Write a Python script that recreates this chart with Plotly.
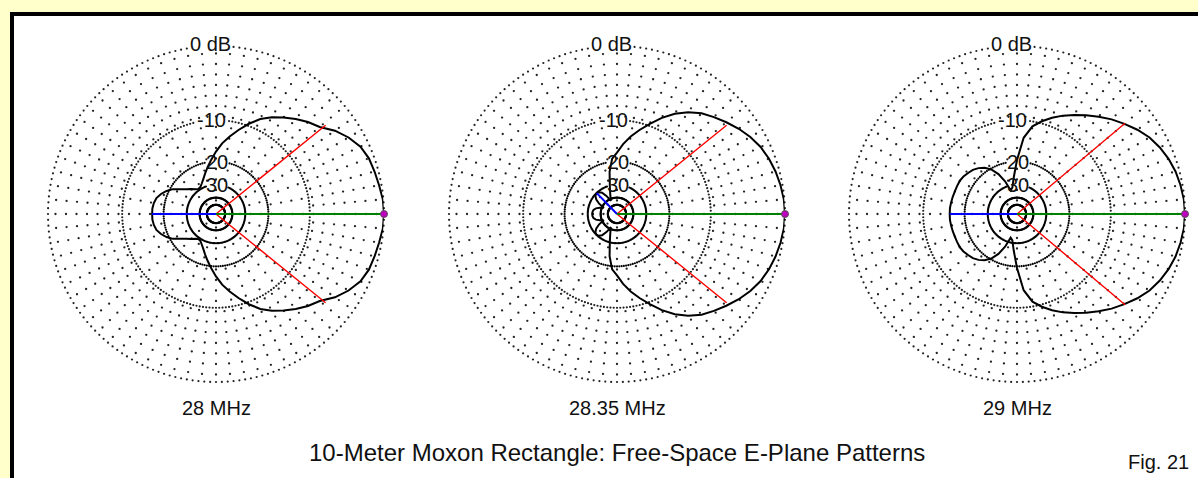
import numpy as np
import plotly.graph_objects as go

W, H = 1198, 478

# ---------------- data ----------------
angles_deg = [0, 5, 10, 15, 20, 25, 30, 35, 40, 45, 50, 55, 60, 65, 70, 75, 80, 85, 90,
              95, 100, 105, 110, 115, 120, 125, 130, 135, 140, 145, 150, 155, 160, 165,
              170, 175, 180]

db_28 = [0, -0.05, -0.25, -0.4, -0.55, -0.9, -1.6, -2.5, -3.7, -4.4, -5.2, -6.1, -7.0,
         -8.1, -9.6, -11.3, -13.0, -14.8, -17.0, -19.3, -21.6, -23.8, -25.9, -27.6,
         -28.9, -29.2, -28.3, -26.8, -25.2, -23.3, -20.9, -19.3, -18.1, -17.2, -16.8,
         -16.6, -16.6]

db_2835 = [0, -0.05, -0.2, -0.4, -0.65, -1.0, -1.5, -2.1, -2.8, -3.5, -4.2, -5.2, -6.4,
           -7.9, -9.6, -11.3, -13.0, -15.0, -17.3, -19.0, -23.5, -31.0, -37.0, -42.0,
           -36.0, -32.0, -30.5, -30.1, -30.6, -32.5, -36.0, -42.0, -38.0, -35.0, -33.5,
           -33.0, -32.8]

db_29 = [0, -0.05, -0.2, -0.4, -0.7, -1.1, -1.6, -2.3, -3.1, -3.9, -4.8, -5.7, -6.6,
         -7.5, -8.5, -9.6, -10.9, -13.5, -19.5, -26.0, -31.5, -33.0, -27.0, -23.0,
         -20.3, -18.7, -17.7, -17.0, -16.6, -16.2, -16.0, -16.0, -16.0, -15.9, -15.8,
         -15.7, -15.7]

freq_labels = ["28 MHz", "28.35 MHz", "29 MHz"]
beam_half_deg = [39, 39, 40]          # -3 dB beamwidth half angle (red lines)
beam_edge_db = [-3.0, -3.0, -3.0]
back_peak_deg = [180, 134, 180]       # worst rear lobe (blue line)
back_peak_db = [-16.6, -30.1, -15.7]
ring_label_text = ["0 dB", "-10", "20", "30"]
ring_label_db = [0, -10, -20, -30]
outer_ring_db = [0, -10]
inner_ring_db = [-20, -30, -40, -50]
title_text = "10-Meter Moxon Rectangle: Free-Space E-Plane Patterns"
fig_text = "Fig. 21"

# ---------------- layout geometry ----------------
centers = [(216, 214), (617, 214), (1017, 214)]
R = 168
FONT = "Liberation Sans, Arial, sans-serif"
YELLOW = "#FFFFCC"
label_dx = [-6, -4, 1, 1]
label_gap = {0: (-29, 17), -10: (-20, 12), -20: (-10, 12), -30: (-10, 12)}


def arrl(db):
    """ARRL log scale: radius shrinks by 0.89 for every 2 dB."""
    return 0.89 ** (-np.asarray(db, dtype=float) / 2.0)


def full_circle(ang, db):
    ang = np.asarray(ang, dtype=float)
    db = np.asarray(db, dtype=float)
    th = np.concatenate([ang, 360 - ang[::-1][1:]])
    dd = np.concatenate([db, db[::-1][1:]])
    return th, arrl(dd)


def ring_dots(levels, step):
    rr, tt = [], []
    for d in levels:
        r = float(arrl(d))
        th = np.arange(0, 360, step)
        keep = np.ones(th.size, bool)
        if d in label_gap:
            x = r * R * np.cos(np.radians(th))
            s = np.sin(np.radians(th))
            lo, hi = label_gap[d]
            keep = ~((s > 0.6) & (x >= lo) & (x <= hi))
        th = th[keep]
        tt.extend(th)
        rr.extend(np.full(th.size, r))
    return rr, tt


fig = go.Figure()
patterns = [db_28, db_2835, db_29]

ring_r, ring_t = ring_dots(outer_ring_db, 2.0)
iring_r, iring_t = ring_dots(inner_ring_db, 2.5)
spoke_r, spoke_t = [], []
rk = R - 7.5
while rk > 12:
    if rk > 97:
        st = 5
    elif rk > 54:
        st = 10
    elif rk > 30:
        st = 15
    else:
        st = 45
    th = np.arange(0, 360, st)
    spoke_t.extend(th)
    spoke_r.extend(np.full(th.size, rk / R))
    rk -= 10.5

for i in range(3):
    pid = "polar" if i == 0 else f"polar{i+1}"
    cx, cy = centers[i]
    fig.add_trace(go.Scatterpolar(r=ring_r, theta=ring_t, mode="markers",
                                  marker=dict(size=2.2, color="#222222"),
                                  subplot=pid, hoverinfo="skip", cliponaxis=False,
                                  showlegend=False))
    fig.add_trace(go.Scatterpolar(r=iring_r, theta=iring_t, mode="markers",
                                  marker=dict(size=2.2, color="#000000"),
                                  subplot=pid, hoverinfo="skip", cliponaxis=False,
                                  showlegend=False))
    fig.add_trace(go.Scatterpolar(r=spoke_r, theta=spoke_t, mode="markers",
                                  marker=dict(size=2.3, color="#222222"),
                                  subplot=pid, hoverinfo="skip", cliponaxis=False,
                                  showlegend=False))
    th, rr = full_circle(angles_deg, patterns[i])
    fig.add_trace(go.Scatterpolar(r=rr, theta=th, mode="lines",
                                  line=dict(color="black", width=2),
                                  subplot=pid, cliponaxis=False, showlegend=False))
    re = float(arrl(beam_edge_db[i]))
    fig.add_trace(go.Scatterpolar(r=[re, 0, re],
                                  theta=[beam_half_deg[i], 0, -beam_half_deg[i]],
                                  mode="lines", line=dict(color="#FF0000", width=1.4),
                                  subplot=pid, cliponaxis=False, showlegend=False))
    fig.add_trace(go.Scatterpolar(r=[0, float(arrl(back_peak_db[i]))],
                                  theta=[0, back_peak_deg[i]], mode="lines",
                                  line=dict(color="#0000FF", width=2),
                                  subplot=pid, cliponaxis=False, showlegend=False))
    fig.add_trace(go.Scatterpolar(r=[0, 1], theta=[0, 0], mode="lines",
                                  line=dict(color="#008000", width=2),
                                  subplot=pid, cliponaxis=False, showlegend=False))
    fig.add_trace(go.Scatterpolar(r=[1], theta=[0], mode="markers",
                                  marker=dict(size=7, color="#C000C0",
                                              line=dict(color="#555555", width=1)),
                                  subplot=pid, cliponaxis=False, showlegend=False))

    polar_cfg = dict(
        domain=dict(x=[(cx - R) / W, (cx + R) / W], y=[1 - (cy + R) / H, 1 - (cy - R) / H]),
        bgcolor="rgba(0,0,0,0)",
        radialaxis=dict(range=[0, 1], visible=False, showgrid=False),
        angularaxis=dict(visible=False, showgrid=False, rotation=0,
                         direction="counterclockwise"),
    )
    fig.update_layout(**{pid: polar_cfg})

annotations = []


def px_text(text, x, y, size=20, xanchor="center"):
    annotations.append(dict(text=text, x=x / W, y=1 - y / H, xref="paper", yref="paper",
                            showarrow=False, xanchor=xanchor, yanchor="middle",
                            font=dict(family=FONT, size=size, color="#111111")))


for i in range(3):
    cx, cy = centers[i]
    for k, (t, d) in enumerate(zip(ring_label_text, ring_label_db)):
        ry = cy - float(arrl(d)) * R
        px_text(t, cx + label_dx[k], ry + (-2 if k == 0 else 0))
    px_text(freq_labels[i], cx, 408)

px_text(title_text, 617, 452, size=24)
px_text(fig_text, 1158, 462, size=20)

shapes = [
    dict(type="rect", xref="paper", yref="paper", x0=10 / W, x1=(W + 20) / W,
         y0=-20 / H, y1=1 - 12 / H, fillcolor="black", line=dict(width=0), layer="below"),
    dict(type="rect", xref="paper", yref="paper", x0=14 / W, x1=(W + 20) / W,
         y0=-20 / H, y1=1 - 16 / H, fillcolor="white", line=dict(width=0), layer="below"),
]

fig.update_layout(width=W, height=H, margin=dict(l=0, r=0, t=0, b=0),
                  paper_bgcolor=YELLOW, plot_bgcolor="white",
                  annotations=annotations, shapes=shapes, showlegend=False)

fig.write_html("out.html")
